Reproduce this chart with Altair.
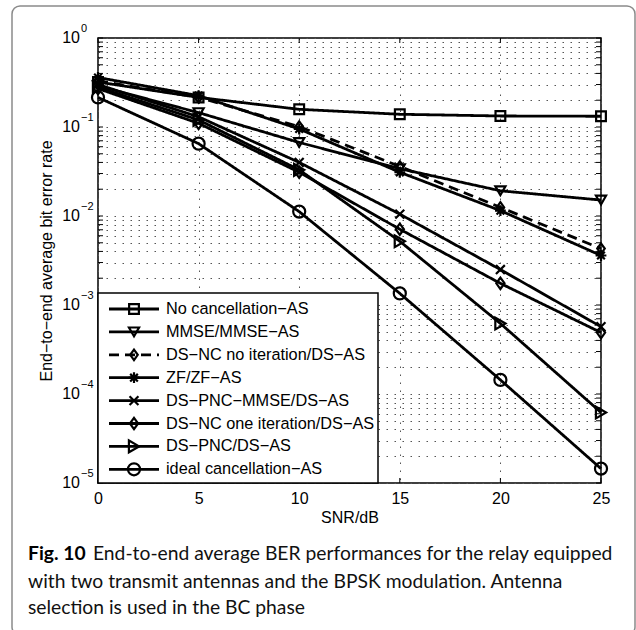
import altair as alt
import pandas as pd

# ---------------- data ----------------
snr = [0, 5, 10, 15, 20, 25]
series_names = [
    "No cancellation−AS",
    "MMSE/MMSE−AS",
    "DS−NC no iteration/DS−AS",
    "ZF/ZF−AS",
    "DS−PNC−MMSE/DS−AS",
    "DS−NC one iteration/DS−AS",
    "DS−PNC/DS−AS",
    "ideal cancellation−AS",
]
no_cancel = [0.32, 0.215, 0.158, 0.139, 0.133, 0.132]
mmse = [0.29, 0.145, 0.067, 0.034, 0.0192, 0.0151]
dsnc_noiter = [0.33, 0.215, 0.101, 0.036, 0.0125, 0.0043]
zf = [0.36, 0.225, 0.095, 0.031, 0.0115, 0.0036]
dspnc_mmse = [0.30, 0.13, 0.040, 0.0105, 0.0025, 0.00057]
dsnc_one = [0.27, 0.11, 0.031, 0.0071, 0.00175, 0.00049]
dspnc = [0.28, 0.12, 0.033, 0.0052, 0.00062, 0.000062]
ideal = [0.215, 0.065, 0.0112, 0.00135, 0.000144, 0.0000145]
all_series = [no_cancel, mmse, dsnc_noiter, zf, dspnc_mmse, dsnc_one, dspnc, ideal]

x_ticks = [0, 5, 10, 15, 20, 25]
decades = [1, 0.1, 0.01, 0.001, 0.0001, 0.00001]
decade_exp = ["0", "−1", "−2", "−3", "−4", "−5"]
y_ticks = [k * 10.0 ** e for e in range(-5, 0) for k in range(1, 10)] + [1.0]

caption_bold = "Fig. 10"
caption_lines = [
    "End-to-end average BER performances for the relay equipped",
    "with two transmit antennas and the BPSK modulation. Antenna",
    "selection is used in the BC phase",
]

# ---------------- styles ----------------
asterisk = "M-1,0L1,0M0,-1L0,1M-0.71,-0.71L0.71,0.71M-0.71,0.71L0.71,-0.71"
xmark = "M-0.8,-0.8L0.8,0.8M-0.8,0.8L0.8,-0.8"
tall_diamond = "M0,-1L0.72,0L0,1L-0.72,0Z"
shapes = ["square", "triangle-down", tall_diamond, asterisk, xmark,
          tall_diamond, "triangle-right", "circle"]
sizes = [95, 145, 150, 200, 140, 150, 130, 115]
dashes = [[1, 0], [1, 0], [10, 6], [1, 0], [1, 0], [1, 0], [1, 0], [1, 0]]

FONT = "Liberation Sans"
FS = 16
W, H = 503, 445

rows = []
for name, vals in zip(series_names, all_series):
    for s, v in zip(snr, vals):
        rows.append({"snr": s, "ber": v, "series": name})
df = pd.DataFrame(rows)

shape_enc = alt.Shape("series:N", scale=alt.Scale(domain=series_names, range=shapes), legend=None)
size_enc = alt.Size("series:N", scale=alt.Scale(domain=series_names, range=sizes), legend=None)
dash_enc = alt.StrokeDash("series:N", scale=alt.Scale(domain=series_names, range=dashes), legend=None)

X = alt.X(
    "snr:Q",
    scale=alt.Scale(domain=[0, 25], nice=False, zero=False),
    axis=alt.Axis(
        values=x_ticks, grid=True, gridDash=[1.5, 6.5], gridColor="#555", gridWidth=1,
        ticks=False, tickSize=0, domain=False, labelFlush=False,
        labelFont=FONT, labelFontSize=FS, labelColor="black", labelPadding=7,
        title="SNR/dB", titleFont=FONT, titleFontSize=FS, titleFontWeight="normal",
        titleColor="black", titleX=W / 2, titleY=34, titleAlign="center",
        titleBaseline="middle",
    ),
)
Y = alt.Y(
    "ber:Q",
    scale=alt.Scale(type="log", domain=[1e-5, 1], nice=False),
    axis=alt.Axis(
        values=y_ticks, grid=True, gridDash=[1.5, 6.5], gridColor="#555", gridWidth=1,
        labels=False, ticks=False, tickSize=0, domain=False,
        title="End−to−end average bit error rate", titleFont=FONT, titleFontSize=FS,
        titleFontWeight="normal", titleColor="black", titleAngle=270,
        titleX=-52, titleY=H / 2, titleAlign="center", titleBaseline="middle",
    ),
)

lines = alt.Chart(df).mark_line(color="black", strokeWidth=2.8).encode(
    x=X, y=Y, detail="series:N", strokeDash=dash_enc
)
points = alt.Chart(df).mark_point(filled=False, color="black", strokeWidth=2.2, opacity=1).encode(
    x="snr:Q", y="ber:Q", shape=shape_enc, size=size_enc
)

# inner tick marks
ytick_df = pd.DataFrame({"v": y_ticks})
xtick_df = pd.DataFrame({"t": x_ticks})
yt_left = alt.Chart(ytick_df).mark_rule(color="black", strokeWidth=1).encode(
    y="v:Q", x=alt.value(0), x2=alt.value(5))
yt_right = alt.Chart(ytick_df).mark_rule(color="black", strokeWidth=1).encode(
    y="v:Q", x=alt.value(W - 5), x2=alt.value(W))
xt_bot = alt.Chart(xtick_df).mark_rule(color="black", strokeWidth=1).encode(
    x="t:Q", y=alt.value(H - 5), y2=alt.value(H))
xt_top = alt.Chart(xtick_df).mark_rule(color="black", strokeWidth=1).encode(
    x="t:Q", y=alt.value(0), y2=alt.value(5))

# decade labels 10^k
dec_df = pd.DataFrame({"d": decades, "e": decade_exp})
lab_base = alt.Chart(dec_df).mark_text(
    align="right", baseline="middle", font=FONT, fontSize=FS, color="black"
).encode(y="d:Q", x=alt.value(-18), text=alt.value("10"))
lab_exp = alt.Chart(dec_df).mark_text(
    align="left", baseline="middle", font=FONT, fontSize=11, color="black", dy=-9
).encode(y="d:Q", x=alt.value(-17), text="e:N")

# legend
one = pd.DataFrame({"a": [0]})
leg_df = pd.DataFrame({"series": series_names, "ly": [271 + i * 22.9 for i in range(8)]})
leg_box = alt.Chart(one).mark_rect(fill="white", stroke="black", strokeWidth=1.5).encode(
    x=alt.value(0), x2=alt.value(280), y=alt.value(255), y2=alt.value(H))
LY = alt.Y("ly:Q", scale=None, axis=None)
leg_lines = alt.Chart(leg_df).mark_rule(color="black", strokeWidth=2.8).encode(
    y=LY, x=alt.value(11), x2=alt.value(61), strokeDash=dash_enc)
leg_pts = alt.Chart(leg_df).mark_point(filled=False, color="black", strokeWidth=2.2, opacity=1).encode(
    y=LY, x=alt.value(36), shape=shape_enc, size=size_enc)
leg_text = alt.Chart(leg_df).mark_text(
    align="left", baseline="middle", font=FONT, fontSize=16.3, color="black"
).encode(y=LY, x=alt.value(68), text="series:N")

# caption + frame
CFONT = "Lato"
CFS = 19.3
cap_bold = alt.Chart(one).mark_text(
    align="left", baseline="alphabetic", font=CFONT, fontSize=CFS, fontWeight="bold", color="black"
).encode(x=alt.value(-70), y=alt.value(522), text=alt.value(caption_bold))
cap1 = alt.Chart(one).mark_text(
    align="left", baseline="alphabetic", font=CFONT, fontSize=CFS, color="#111"
).encode(x=alt.value(-5), y=alt.value(522), text=alt.value(caption_lines[0]))
cap2 = alt.Chart(one).mark_text(
    align="left", baseline="alphabetic", font=CFONT, fontSize=CFS, color="#111"
).encode(x=alt.value(-70), y=alt.value(550), text=alt.value(caption_lines[1]))
cap3 = alt.Chart(one).mark_text(
    align="left", baseline="alphabetic", font=CFONT, fontSize=CFS, color="#111"
).encode(x=alt.value(-70), y=alt.value(576), text=alt.value(caption_lines[2]))
frame = alt.Chart(one).mark_rect(
    fillOpacity=0, stroke="#8a8a8a", strokeWidth=1.5, cornerRadius=8
).encode(x=alt.value(-86), x2=alt.value(537), y=alt.value(-32), y2=alt.value(597))

chart = alt.layer(
    lines, points, yt_left, yt_right, xt_bot, xt_top, lab_base, lab_exp,
    leg_box, leg_lines, leg_pts, leg_text,
    cap_bold, cap1, cap2, cap3, frame,
).properties(
    width=W, height=H,
    padding={"left": 98, "top": 38, "right": 35, "bottom": 147},
    autosize=alt.AutoSizeParams(type="none"),
    background="white",
).configure_view(stroke="black", strokeWidth=1.5)

chart.save("out.html", embed_options={"renderer": "svg", "actions": False})
